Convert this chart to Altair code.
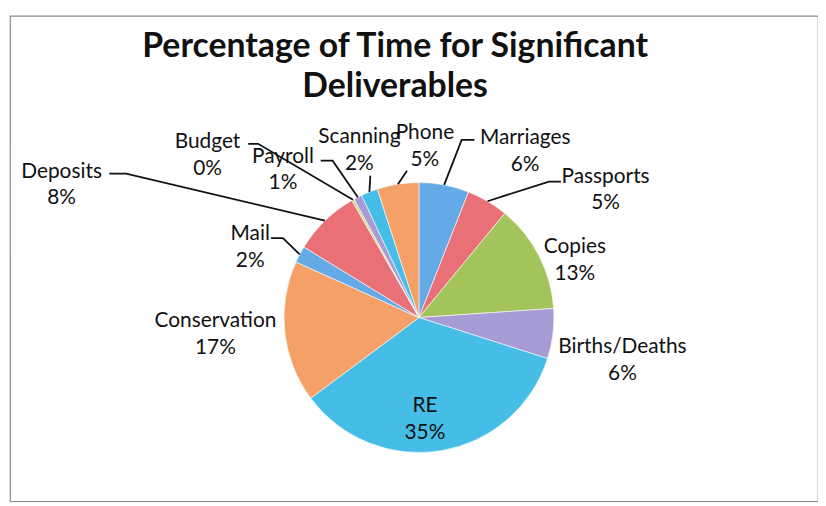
import math
import altair as alt
import pandas as pd

# ---- data ----
categories = ["Marriages", "Passports", "Copies", "Births/Deaths", "RE", "Conservation",
              "Mail", "Deposits", "Budget", "Payroll", "Scanning", "Phone"]
values = [6, 5, 13, 6, 35, 17, 2, 8, 0.3, 1, 2, 5]
colors = ["#64aae6", "#ea7078", "#a2c45a", "#a79bd6", "#45bde6", "#f5a066",
          "#64aae6", "#ea7078", "#cfdc7a", "#a79bd6", "#45bde6", "#f5a066"]

# ---- label layout (px from pie centre, y up) ----
label_x = [107, 188, 157, 205, 6, -205, -170, -360, -213, -137, -60, 6]
label_y = [175, 136, 65, -36, -95, -10, 78, 141, 171, 156, 176, 180]
leader_pts = {
    "Marriages": [(43, 179), (56, 179)],
    "Passports": [(131, 137), (143, 137)],
    "Mail": [(-137, 80), (-149, 80)],
    "Deposits": [(-295, 145), (-312, 145)],
    "Budget": [(-162, 175), (-172, 175)],
    "Payroll": [(-87, 158), (-99, 158)],
    "Scanning": [(-49, 143)],
    "Phone": [(-12, 148)],
}

R = 136
W, H = 814, 489
CX, CY = 412, 304  # pie centre inside the view

df = pd.DataFrame({
    "cat": categories,
    "value": values,
    "idx": list(range(len(categories))),
    "lx": label_x,
    "ly": label_y,
})

total = sum(values)
rows = []
cum = 0.0
for c, v in zip(categories, values):
    mid = (cum + v / 2) / total * 2 * math.pi
    cum += v
    if c in leader_pts:
        pts = [(R * math.sin(mid), R * math.cos(mid))] + leader_pts[c]
        for s, (px, py) in enumerate(pts):
            rows.append({"cat": c, "seq": s, "px": px, "py": py})
lines_df = pd.DataFrame(rows)

xs = alt.Scale(domain=[-CX, W - CX], nice=False, zero=False)
ys = alt.Scale(domain=[-(H - CY), CY], nice=False, zero=False)

arcs = alt.Chart(df).mark_arc(outerRadius=R, stroke="#ffffff", strokeWidth=0.6).encode(
    x=alt.XDatum(0, scale=xs, axis=None),
    y=alt.YDatum(0, scale=ys, axis=None),
    theta=alt.Theta("value:Q", stack=True),
    order=alt.Order("idx:Q"),
    color=alt.Color("cat:N", scale=alt.Scale(domain=categories, range=colors), legend=None),
)

leaders = alt.Chart(lines_df).mark_line(color="#111111", strokeWidth=1.8).encode(
    x=alt.X("px:Q", scale=xs, axis=None),
    y=alt.Y("py:Q", scale=ys, axis=None),
    detail="cat:N",
    order="seq:Q",
)

labels = alt.Chart(df).transform_joinaggregate(
    tot="sum(value)"
).transform_calculate(
    label="datum.cat + '\\n' + format(datum.value / datum.tot, '.0%')"
).mark_text(font="Lato", fontSize=21, lineBreak="\n", align="center",
            baseline="alphabetic", lineHeight=27, color="#111111").encode(
    x=alt.X("lx:Q", scale=xs, axis=None),
    y=alt.Y("ly:Q", scale=ys, axis=None),
    text="label:N",
)

chart = alt.layer(arcs, leaders, labels).properties(
    width=W, height=H,
    autosize=alt.AutoSizeParams(type="none"),
    padding={"left": 2, "top": 6, "right": 0, "bottom": 0},
    title=alt.TitleParams(
        text=["Percentage of Time for Significant", "Deliverables"],
        font="Lato", fontSize=34, fontWeight="bold", color="#111111",
        anchor="middle", frame="group", baseline="top", offset=-89,
        lineHeight=40, dx=-19,
    ),
).configure_view(stroke="#8a8a8a", strokeWidth=1.2)

chart.save("out.html", embed_options={"renderer": "svg", "actions": False})
